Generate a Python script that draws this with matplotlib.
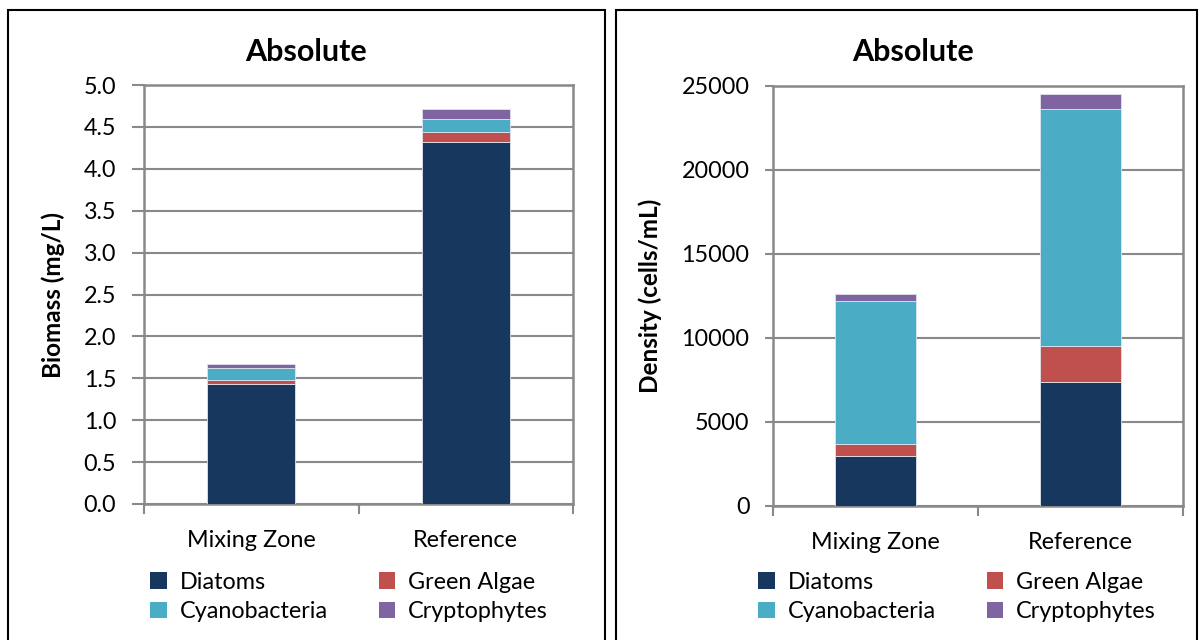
import matplotlib
matplotlib.use("Agg")
import matplotlib.pyplot as plt
from matplotlib.patches import Rectangle, Patch
import numpy as np

plt.rcParams['font.family'] = ['Lato', 'DejaVu Sans']

sites = ['Mixing Zone', 'Reference']
groups = ['Diatoms', 'Green Algae', 'Cyanobacteria', 'Cryptophytes']
colors = ['#17375E', '#C0504D', '#4BACC6', '#8064A2']

# biomass, mg/L (per site, per group)
biomass_diatoms = [1.43, 4.32]
biomass_green = [0.05, 0.12]
biomass_cyano = [0.14, 0.15]
biomass_crypto = [0.05, 0.12]

# density, cells/mL
density_diatoms = [2980, 7390]
density_green = [735, 2140]
density_cyano = [8470, 14080]
density_crypto = [460, 930]

W, H = 1201, 640
fig = plt.figure(figsize=(W / 100, H / 100), dpi=100)

grey = '#898989'


def px_axes(x0, y0, x1, y1):
    return fig.add_axes([x0 / W, 1 - y1 / H, (x1 - x0) / W, (y1 - y0) / H])


def panel(x0, x1, title_x):
    fig.patches.append(Rectangle((x0 / W, -0.1), (x1 - x0) / W, 0.1 + 1 - 10 / H,
                                 transform=fig.transFigure, fill=False,
                                 edgecolor='black', linewidth=1.5))
    fig.text(title_x / W, 1 - 52 / H, 'Absolute', ha='center', va='center',
             fontsize=22, fontweight='bold')


def stacked(ax, series, width, ymax, yticks, fmt, ylabel, label_x, tick_len, legend_x):
    x = np.arange(len(sites))
    bottom = np.zeros(len(sites))
    for vals, c in zip(series, colors):
        ax.bar(x, vals, width, bottom=bottom, color=c, edgecolor='#dfe4ee',
               linewidth=0.6, zorder=3)
        bottom += np.array(vals)
    ax.set_xlim(-0.5, 1.5)
    ax.set_ylim(0, ymax)
    ax.set_yticks(yticks)
    ax.set_yticklabels([fmt.format(v) for v in yticks])
    ax.yaxis.grid(True, color=grey, linewidth=1.5, zorder=0)
    ax.set_axisbelow(True)
    for s in ax.spines.values():
        s.set_color(grey)
        s.set_linewidth(1.8)
    ax.tick_params(axis='y', length=tick_len, width=1.5, color=grey,
                   labelsize=16.8, pad=11)
    ax.set_xticks(x)
    ax.set_xticklabels(sites)
    ax.tick_params(axis='x', which='major', length=0, labelsize=16.8, pad=19)
    ax.set_xticks([-0.5, 0.5, 1.5], minor=True)
    ax.tick_params(axis='x', which='minor', length=7, width=1.5, color=grey)
    ax.set_ylabel(ylabel, fontsize=17.5, fontweight='bold')
    ax.yaxis.set_label_coords(label_x, 0.5)

    order = [0, 2, 1, 3]
    handles = [Patch(facecolor=colors[i], label=groups[i]) for i in order]
    fig.legend(handles=handles, ncol=2, loc='center',
               bbox_to_anchor=(legend_x / W, 1 - 597 / H), frameon=False,
               fontsize=16.8, handlelength=0.7, handleheight=0.7,
               handletextpad=0.55, columnspacing=2.2, labelspacing=0.38,
               borderpad=0)


panel(8, 605, 306)
panel(616, 1197, 913)

ax1 = px_axes(144, 85, 573, 504)
stacked(ax1, [biomass_diatoms, biomass_green, biomass_cyano, biomass_crypto],
        0.41, 5.0, np.arange(0, 5.01, 0.5), '{:.1f}', 'Biomass (mg/L)',
        -0.184, 9, 349)

ax2 = px_axes(773, 86, 1183, 506)
stacked(ax2, [density_diatoms, density_green, density_cyano, density_crypto],
        0.395, 25000, np.arange(0, 25001, 5000), '{:.0f}', 'Density (cells/mL)',
        -0.27, 6, 957)

fig.savefig('out.png', dpi=100)
